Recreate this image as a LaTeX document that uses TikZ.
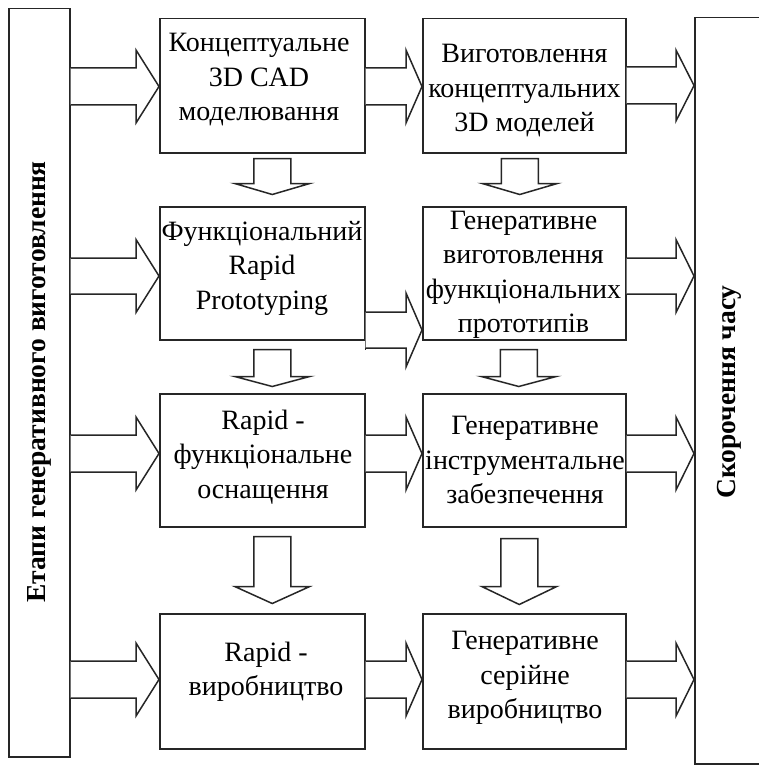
\documentclass[tikz,border=0pt]{standalone}
\usepackage{fontspec}
\setmainfont{Liberation Serif}
\usetikzlibrary{calc}
\tikzset{
  ln/.style={draw=black!85, line width=1.5pt},
  boxn/.style={ln, rectangle, inner sep=0pt, anchor=north west},
  lbl/.style={align=center, inner sep=0pt, font=\fontsize{28}{34.5}\selectfont},
  vlbl/.style={rotate=90, inner sep=0pt, font=\fontsize{27.5}{34}\selectfont\bfseries},
  blk/.style={ln, line join=miter, fill=white}
}
% horizontal block arrow: src anchor, dst anchor, yc, shaft half, head half, head length
\newcommand\harr[6]{%
\draw[blk] let \p1=(#1), \p2=(#2) in
 (\x1,{-(#3-#4)*1pt}) -- ({\x2-#6*1pt},{-(#3-#4)*1pt}) -- ({\x2-#6*1pt},{-(#3-#5)*1pt})
 -- (\x2,{-#3*1pt}) -- ({\x2-#6*1pt},{-(#3+#5)*1pt}) -- ({\x2-#6*1pt},{-(#3+#4)*1pt})
 -- (\x1,{-(#3+#4)*1pt});}
% vertical block arrow: box, x offset, top, head start, tip (below box bottom)
\newcommand\varr[5]{%
\draw[blk] let \p1=(#1.south) in
 ({\x1+(#2-18.5)*1pt},{\y1-#3*1pt}) -- ({\x1+(#2+18.5)*1pt},{\y1-#3*1pt})
 -- ({\x1+(#2+18.5)*1pt},{\y1-#4*1pt}) -- ({\x1+(#2+37.5)*1pt},{\y1-#4*1pt})
 -- ({\x1+#2*1pt},{\y1-#5*1pt}) -- ({\x1+(#2-37.5)*1pt},{\y1-#4*1pt})
 -- ({\x1+(#2-18.5)*1pt},{\y1-#4*1pt}) -- cycle;}
\begin{document}
\begin{tikzpicture}[x=1pt,y=1pt]
\useasboundingbox (0,0) rectangle (758,-765);
% side bars
\node[boxn, minimum width=61pt, minimum height=748pt] (L) at (8,-8) {};
\node[boxn, minimum width=80pt, minimum height=746pt] (R) at (694,-17) {};
\node[vlbl] (Lt) at (39,-382) {Етапи генеративного виготовлення};
\node[vlbl] (Rt) at (729,-392) {Скорочення часу};
% boxes
\node[boxn, minimum width=205pt, minimum height=134pt] (B11) at (159,-18) {};
\node[boxn, minimum width=203pt, minimum height=134pt] (B12) at (422,-18) {};
\node[boxn, minimum width=205pt, minimum height=133pt] (B21) at (159,-206) {};
\node[boxn, minimum width=203pt, minimum height=133pt] (B22) at (422,-206) {};
\node[boxn, minimum width=205pt, minimum height=133pt] (B31) at (159,-393) {};
\node[boxn, minimum width=203pt, minimum height=133pt] (B32) at (422,-393) {};
\node[boxn, minimum width=205pt, minimum height=135pt] (B41) at (159,-613) {};
\node[boxn, minimum width=203pt, minimum height=135pt] (B42) at (422,-613) {};
% labels
\node[lbl] (T11) at (259,-80) {Концептуальне\\3D CAD\\моделювання};
\node[lbl] (T12) at (524.5,-91) {Виготовлення\\концептуальних\\3D моделей};
\node[lbl] (T21) at (262,-268) {Функціональний\\Rapid\\Prototyping};
\node[lbl] (T22) at (523.5,-275) {Генеративне\\виготовлення\\функціональних\\прототипів};
\node[lbl] (T31) at (263,-457) {Rapid -\\функціональне\\оснащення};
\node[lbl] (T32) at (525,-460) {Генеративне\\інструментальне\\забезпечення};
\node[lbl] (T41) at (266,-672) {Rapid -\\виробництво};
\node[lbl] (T42) at (525,-678) {Генеративне\\серійне\\виробництво};
% horizontal arrows
\harr{L.east}{B11.west}{86.5}{18.5}{36.5}{23}
\harr{B11.east}{B12.west}{86.5}{18.5}{36.5}{16}
\harr{B12.east}{R.west}{85.5}{18.5}{35.5}{18}
\harr{L.east}{B21.west}{276}{18}{36.5}{23}
\draw[ln] let \p1=(B21.south east) in (\x1,\y1) -- (\x1,{\y1-9pt});
\harr{B21.south east}{B22.west}{330}{18}{37}{16}
\harr{B22.east}{R.west}{276}{18}{36.5}{18}
\harr{L.east}{B31.west}{453.5}{18.5}{36.5}{23}
\harr{B31.east}{B32.west}{453.5}{18.5}{36.5}{16}
\harr{B32.east}{R.west}{453.5}{18.5}{36.5}{18}
\harr{L.east}{B41.west}{679.5}{18.5}{36.5}{23}
\harr{B41.east}{B42.west}{679.5}{18.5}{36.5}{16}
\harr{B42.east}{R.west}{679.5}{18.5}{36.5}{18}
% vertical arrows
\varr{B11}{10}{5}{30}{41}
\varr{B12}{-4.5}{5}{30}{41}
\varr{B21}{10}{9}{36}{46}
\varr{B22}{-5.5}{9}{36}{46}
\varr{B31}{10}{9}{59}{76}
\varr{B32}{-5}{11}{59}{77}
\end{tikzpicture}
\end{document}
